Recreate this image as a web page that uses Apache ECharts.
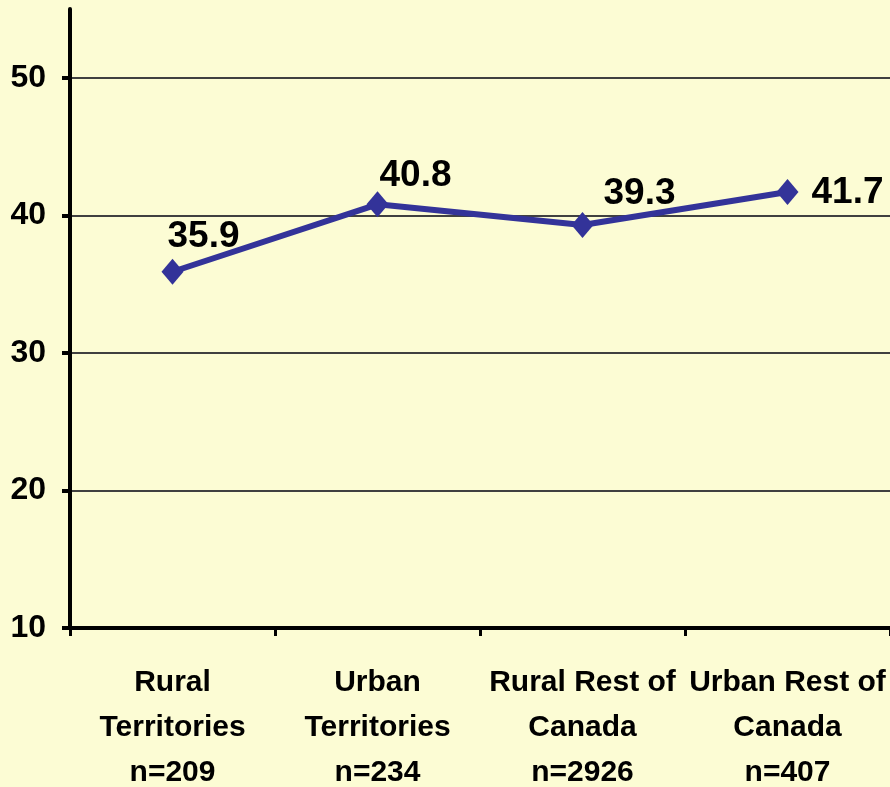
<!DOCTYPE html>
<html>
<head>
<meta charset="utf-8">
<script src="https://cdn.jsdelivr.net/npm/echarts@6/dist/echarts.min.js"></script>
<style>
html,body{margin:0;padding:0;background:#FCFCD4;}
#main{width:890px;height:787px;}
</style>
</head>
<body>
<div id="main"></div>
<script>
var categories = ["Rural\nTerritories\nn=209", "Urban\nTerritories\nn=234", "Rural Rest of\nCanada\nn=2926", "Urban Rest of\nCanada\nn=407"];
var values = [35.9, 40.8, 39.3, 41.7];
var labelOffsets = [[31, -35], [38, -29], [57, -31], [60, 1]];
var yTicks = [10, 20, 30, 40, 50];

var FONT = '"Liberation Sans", Arial, sans-serif';
var chart = echarts.init(document.getElementById('main'));
chart.setOption({
  backgroundColor: '#FCFCD4',
  animation: false,
  grid: {left: 70, right: 0, top: 9, bottom: 159, containLabel: false, outerBoundsMode: 'none'},
  xAxis: {
    type: 'category',
    data: categories,
    boundaryGap: true,
    axisLine: {lineStyle: {color: '#000', width: 4}},
    axisTick: {show: true, length: 8, lineStyle: {color: '#000', width: 3}},
    axisLabel: {color: '#000', fontFamily: FONT, fontWeight: 'bold', fontSize: 30, lineHeight: 45, margin: 32, interval: 0}
  },
  yAxis: {
    type: 'value',
    min: 10, max: 55, interval: 10,
    axisLine: {show: true, lineStyle: {color: '#000', width: 4}},
    axisTick: {show: true, length: 8, lineStyle: {color: '#000', width: 4}, customValues: yTicks},
    axisLabel: {color: '#000', fontFamily: FONT, fontWeight: 'bold', fontSize: 32, margin: 24, customValues: yTicks},
    splitLine: {show: true, showMinLine: false, lineStyle: {color: '#404040', width: 2}}
  },
  series: [{
    type: 'line',
    data: values.map(function (v, i) {
      return {value: v, label: {offset: labelOffsets[i]}};
    }),
    symbol: 'diamond',
    symbolSize: [22, 26],
    lineStyle: {color: '#333399', width: 6},
    itemStyle: {color: '#333399'},
    label: {show: true, position: 'inside', color: '#000', fontFamily: FONT, fontWeight: 'bold', fontSize: 37, formatter: function (p) { return p.value.toFixed(1); }},
    z: 5
  }]
});
</script>
</body>
</html>
